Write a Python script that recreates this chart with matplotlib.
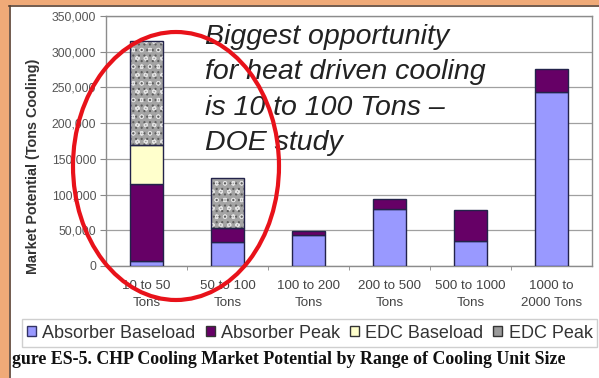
import matplotlib
matplotlib.use("Agg")
import matplotlib.pyplot as plt
import numpy as np
from matplotlib.patches import Ellipse, Rectangle, Patch

plt.rcParams['font.family'] = ['Liberation Sans', 'DejaVu Sans']

# Cooling market potential by unit size (tons cooling)
categories = ["10 to 50\nTons", "50 to 100\nTons", "100 to 200\nTons",
              "200 to 500\nTons", "500 to 1000\nTons", "1000 to\n2000 Tons"]
absorber_base = [7000, 33000, 44000, 80000, 35000, 243000]
absorber_peak = [108000, 20000, 5000, 14000, 43000, 33000]
edc_base = [55000, 0, 0, 0, 0, 0]
edc_peak = [145000, 70000, 0, 0, 0, 0]
series_names = ["Absorber Baseload", "Absorber Peak", "EDC Baseload", "EDC Peak"]
yticks = [0, 50000, 100000, 150000, 200000, 250000, 300000, 350000]

W, H = 599, 378
fig = plt.figure(figsize=(W / 100, H / 100), dpi=100)
fig.patch.set_facecolor('white')

def fx(px):
    return px / W

def fy(py):
    return 1 - py / H

ax = fig.add_axes([fx(106), fy(266), fx(592) - fx(106), fy(16) - fy(266)])

x = np.arange(len(categories))
bw = 0.41
edge = '#23234a'
c_ab, c_ap, c_eb, c_ep = '#9999ff', '#660066', '#ffffcc', '#a4a4a4'

b0 = np.zeros(len(x))
ax.bar(x, absorber_base, bw, bottom=b0, color=c_ab, edgecolor=edge, linewidth=1, zorder=3)
b1 = b0 + np.array(absorber_base)
ax.bar(x, absorber_peak, bw, bottom=b1, color=c_ap, edgecolor=edge, linewidth=1, zorder=3)
b2 = b1 + np.array(absorber_peak)
mask = np.array(edc_base) > 0
ax.bar(x[mask], np.array(edc_base)[mask], bw, bottom=b2[mask], color=c_eb,
       edgecolor=edge, linewidth=1, zorder=3)
b3 = b2 + np.array(edc_base)
mask = np.array(edc_peak) > 0
# speckled fill for EDC Peak: light rings plus dark dots on grey, outline on top
plt.rcParams['hatch.linewidth'] = 0.8
ax.bar(x[mask], np.array(edc_peak)[mask], bw, bottom=b3[mask], color=c_ep,
       edgecolor='#e2e2e2', hatch='oo', linewidth=0, zorder=3)
ax.bar(x[mask], np.array(edc_peak)[mask], bw, bottom=b3[mask], fill=False,
       edgecolor='#5e5e5e', hatch='...', linewidth=0, zorder=3)
ax.bar(x[mask], np.array(edc_peak)[mask], bw, bottom=b3[mask], fill=False,
       edgecolor=edge, linewidth=1, zorder=4)

ax.set_xlim(-0.5, len(x) - 0.5)
ax.set_ylim(0, 350000)
ax.set_yticks(yticks)
ax.set_yticklabels([f"{v:,}" for v in yticks], fontsize=8.8, color='#555555')
ax.set_xticks(x)
ax.set_xticklabels(categories, fontsize=9.6, color='#444444', linespacing=1.55)
ax.set_xticks(np.arange(0.5, len(x) - 0.5), minor=True)
ax.tick_params(axis='x', which='major', length=0, pad=10)
ax.tick_params(axis='x', which='minor', length=3, color='#888888')
ax.tick_params(axis='y', length=4, color='#888888', pad=3)
ax.grid(axis='y', color='#a0a0a0', linewidth=0.9, zorder=0)
for s in ax.spines.values():
    s.set_color('#8c8c8c')
    s.set_linewidth(1)

fig.text(fx(33), fy(166), "Market Potential (Tons Cooling)", rotation=90,
         ha='center', va='center', fontsize=10.4, fontweight='bold', color='#333333')

# callout text
notes = ["Biggest opportunity", "for heat driven cooling",
         "is 10 to 100 Tons \u2013", "DOE study"]
for i, line in enumerate(notes):
    fig.text(fx(205), fy(37 + 35.3 * i), line, fontsize=20.5, style='italic',
             color='#222222', ha='left', va='center')

# red ring around the small-size bars
fig.patches.append(Ellipse((fx(176), fy(166)), fx(206), 268 / H,
                           transform=fig.transFigure, fill=False,
                           edgecolor='#e8121a', linewidth=3, zorder=10))

# legend
handles = [Patch(facecolor=c_ab, edgecolor='#333366'),
           Patch(facecolor=c_ap, edgecolor='#333333'),
           Patch(facecolor=c_eb, edgecolor='#333333'),
           Patch(facecolor='#9a9a9a', edgecolor='#333333')]
fig.patches.append(Rectangle((fx(22), fy(347)), fx(597) - fx(22), (347 - 319) / H,
                             transform=fig.transFigure, fill=False,
                             edgecolor='#cfcfcf', linewidth=1))
fig.legend(handles, series_names, loc='center left', bbox_to_anchor=(fx(27), fy(333)),
           ncol=4, frameon=False, fontsize=13, handlelength=0.5, handleheight=0.5,
           handletextpad=0.35, columnspacing=0.55, borderpad=0, borderaxespad=0,
           labelcolor='#333333')

fig.text(fx(12), fy(359), "gure ES-5. CHP Cooling Market Potential by Range of Cooling Unit Size",
         family=['Liberation Serif', 'DejaVu Serif'], fontweight='bold', fontsize=12.9,
         color='#111111', ha='left', va='center')

# orange frame along the top and left edges
fig.patches.append(Rectangle((0, fy(5)), 1, 5 / H, transform=fig.transFigure,
                             facecolor='#f0aa78', edgecolor='none', zorder=11))
fig.patches.append(Rectangle((0, 0), fx(9), 1, transform=fig.transFigure,
                             facecolor='#f0aa78', edgecolor='none', zorder=11))
fig.add_artist(plt.Line2D([fx(9), 1], [fy(5.5), fy(5.5)], transform=fig.transFigure,
                          color='#5a4030', linewidth=1.2, zorder=12))
fig.add_artist(plt.Line2D([fx(9.5), fx(9.5)], [0, fy(5.5)], transform=fig.transFigure,
                          color='#5a4030', linewidth=1.2, zorder=12))

fig.savefig("out.png", dpi=100)
